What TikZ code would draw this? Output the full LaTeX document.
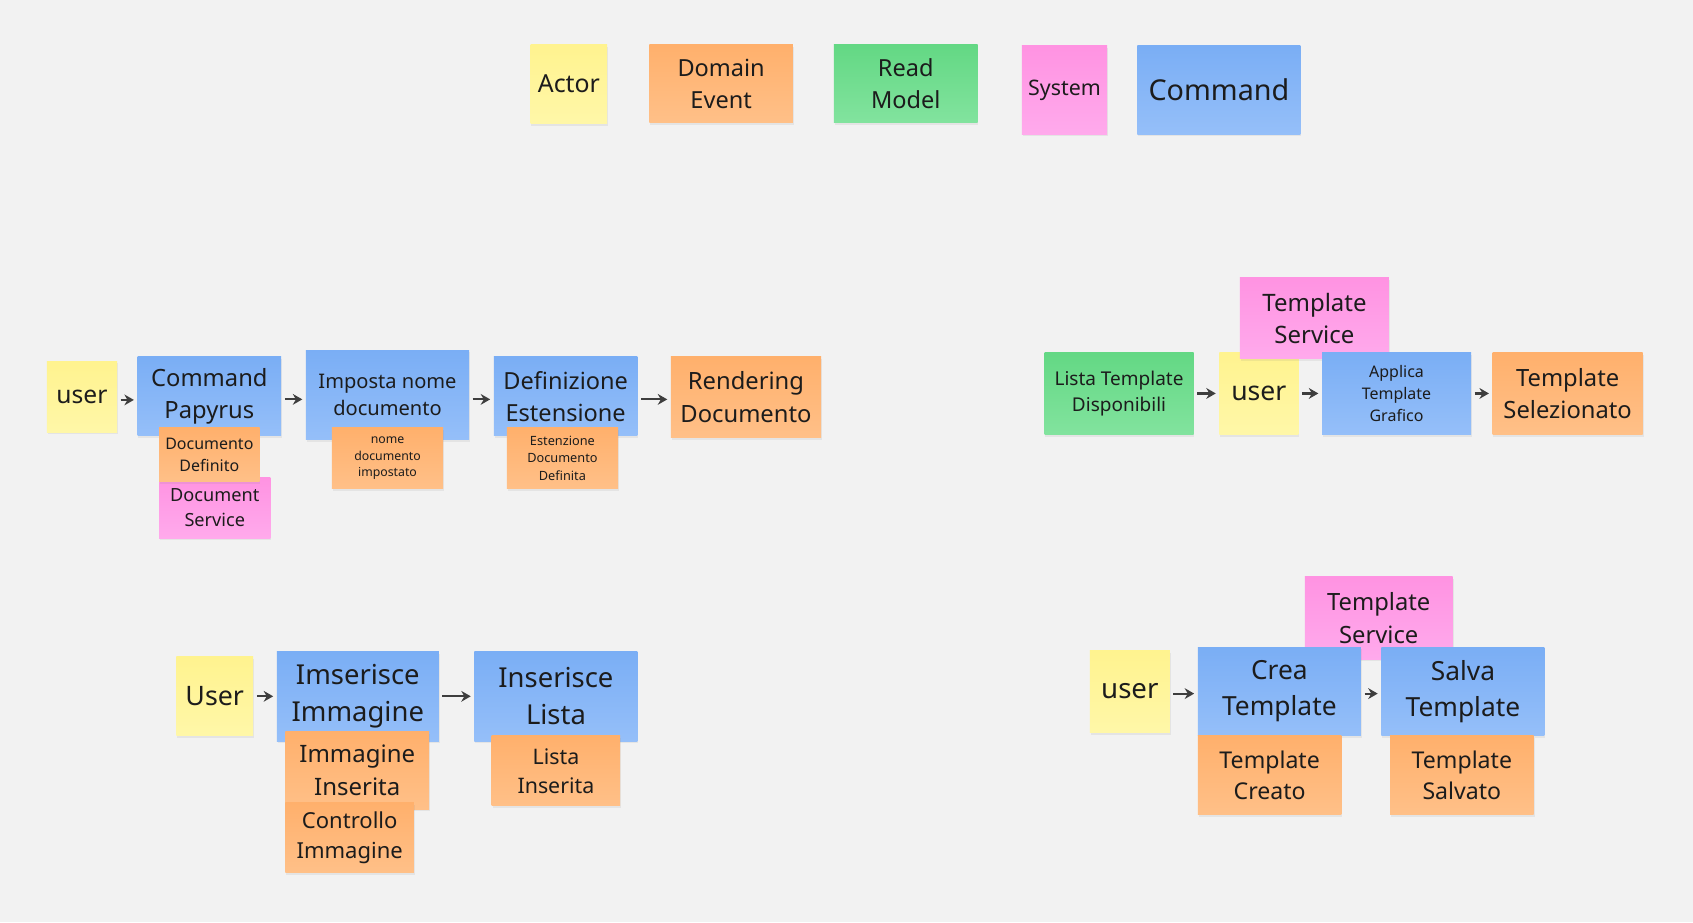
\documentclass[tikz,border=0pt]{standalone}
\usepackage{fontspec}
\setmainfont{Noto Sans}
\usetikzlibrary{arrows.meta,shadows}
\definecolor{bgcol}{HTML}{F2F2F2}
\definecolor{actA}{HTML}{FFF38F}
\definecolor{actB}{HTML}{FFF7A8}
\definecolor{evtA}{HTML}{FFB06C}
\definecolor{evtB}{HTML}{FFC088}
\definecolor{rmA}{HTML}{63D884}
\definecolor{rmB}{HTML}{82E39E}
\definecolor{sysA}{HTML}{FF93E2}
\definecolor{sysB}{HTML}{FFAAEC}
\definecolor{cmdA}{HTML}{7AAEF5}
\definecolor{cmdB}{HTML}{95BFF9}
\definecolor{ink}{HTML}{1C1C1C}
\newcommand\notefont[1]{\pgfmathsetmacro\nfskip{1.36*#1}\fontsize{#1}{\nfskip}\selectfont}
\begin{document}
\begin{tikzpicture}[x=0.5pt, y=-0.5pt,
		sticky/.style={anchor=north west, inner sep=0pt, align=center, text=ink,
			drop shadow={shadow xshift=0.4pt, shadow yshift=-1pt, opacity=0.12}},
		actor/.style={sticky, top color=actA, bottom color=actB},
		event/.style={sticky, top color=evtA, bottom color=evtB},
		readm/.style={sticky, top color=rmA, bottom color=rmB},
		sys/.style={sticky, top color=sysA, bottom color=sysB},
		cmd/.style={sticky, top color=cmdA, bottom color=cmdB},
		wh/.style 2 args={minimum width=#1*0.5pt, minimum height=#2*0.5pt},
		fs/.style={font=\notefont{#1}},
		flow/.style={-{Stealth[length=4.4pt, width=5pt]}, line width=1pt, draw=ink!85,
			shorten <=1.5pt, shorten >=1.5pt}]
			\fill[bgcol] (0,0) rectangle (1568,854);
			\useasboundingbox (0,0) rectangle (1568,854);
			% legend
			\node[actor, wh={71}{73}, fs=11.5] (L_0) at (491,41) {Actor};
			\node[event, wh={133}{72}, fs=10.9] (L_1) at (601,41) {Domain\\Event};
			\node[readm, wh={133}{72}, fs=10.9] (L_2) at (772,41) {Read\\Model};
			\node[sys, wh={79}{82}, fs=9.9] (L_3) at (946,42) {System};
			\node[cmd, wh={151}{82}, fs=13.3] (L_4) at (1053,42) {Command};
			% flow 1
			\node[actor, wh={65}{66}, fs=11.4] (P_1_0) at (43,334) {user};
			\node[cmd, wh={133}{73}, fs=11] (P_1_1) at (127,330) {Command\\Papyrus};
			\draw[flow] ([yshift=-1.5pt]P_1_0.east) -- ([yshift=-1.5pt]P_1_0.east -| P_1_1.west);
			\node[sys, wh={103}{56}, fs=8.4] (S_1_1) at (147,442) {Document\\Service};
			\node[event, wh={93}{50}, fs=7.4] (E_1_1) at (147,396) {Documento\\Definito};
			\node[cmd, wh={151}{83}, fs=9.3] (P_1_2) at (283,324) {Imposta nome\\documento};
			\draw[flow] ([yshift=-1.5pt]P_1_1.east) -- ([yshift=-1.5pt]P_1_1.east -| P_1_2.west);
			\node[event, wh={103}{56}, fs=5.7] (E_1_2) at (307,396) {nome\\documento\\impostato};
			\node[cmd, wh={133}{73}, fs=10.9] (P_1_3) at (457,330) {Definizione\\Estensione};
			\draw[flow] ([yshift=-1.5pt]P_1_2.east |- P_1_3.east) -- ([yshift=-1.5pt]P_1_3.west);
			\node[event, wh={103}{56}, fs=5.9] (E_1_3) at (469,396) {Estenzione\\Documento\\Definita};
			\node[event, wh={139}{75}, fs=11] (P_1_4) at (621,330) {Rendering\\Documento};
			\draw[flow] ([yshift=-1.5pt]P_1_3.east) -- ([yshift=-1.5pt]P_1_3.east -| P_1_4.west);
			% flow 2
			\node[readm, wh={138}{76}, fs=8.8] (P_2_0) at (967,326) {Lista Template\\Disponibili};
			\node[actor, wh={73}{76}, fs=12.3] (P_2_1) at (1129,326) {user};
			\draw[flow] (P_2_0.east) -- (P_2_1.west);
			\node[sys, wh={138}{75}, fs=11.1] (S_2_1) at (1148,257) {Template\\Service};
			\node[cmd, wh={138}{76}, fs=7.4] (P_2_2) at (1224,326) {Applica\\Template\\Grafico};
			\draw[flow] (P_2_1.east) -- (P_2_2.west);
			\node[event, wh={139}{76}, fs=11] (P_2_3) at (1382,326) {Template\\Selezionato};
			\draw[flow] (P_2_2.east) -- (P_2_3.west);
			% flow 3
			\node[actor, wh={71}{73}, fs=12.4] (P_3_0) at (163,608) {User};
			\node[cmd, wh={150}{83}, fs=12.7] (P_3_1) at (256,603) {Imserisce\\Immagine};
			\draw[flow] (P_3_0.east) -- (P_3_0.east -| P_3_1.west);
			\node[event, wh={133}{72}, fs=11.1] (E_3_1) at (264,677) {Immagine\\Inserita};
			\node[event, wh={119}{65}, fs=10.2] (E_3_2) at (264,743) {Controllo\\Immagine};
			\node[cmd, wh={151}{83}, fs=12.7] (P_3_2) at (439,603) {Inserisce\\Lista};
			\draw[flow] (P_3_1.east) -- (P_3_2.west);
			\node[event, wh={119}{65}, fs=9.9] (E_3_3) at (455,681) {Lista\\Inserita};
			% flow 4
			\node[actor, wh={74}{76}, fs=12.8] (P_4_0) at (1009,602) {user};
			\node[sys, wh={137}{76}, fs=11] (S_4_1) at (1208,534) {Template\\Service};
			\node[cmd, wh={151}{82}, fs=12.2] (P_4_1) at (1109,599) {Crea\\Template};
			\draw[flow] ([yshift=-1pt]P_4_0.east) -- ([yshift=-1pt]P_4_0.east -| P_4_1.west);
			\node[cmd, wh={151}{82}, fs=12.2] (P_4_2) at (1279,599) {Salva\\Template};
			\draw[flow] ([yshift=-1pt]P_4_1.east) -- ([yshift=-1pt]P_4_2.west);
			\node[event, wh={133}{73}, fs=10.7] (E_4_1) at (1109,681) {Template\\Creato};
			\node[event, wh={133}{73}, fs=10.7] (E_4_2) at (1287,681) {Template\\Salvato};
		\end{tikzpicture}
\end{document}
